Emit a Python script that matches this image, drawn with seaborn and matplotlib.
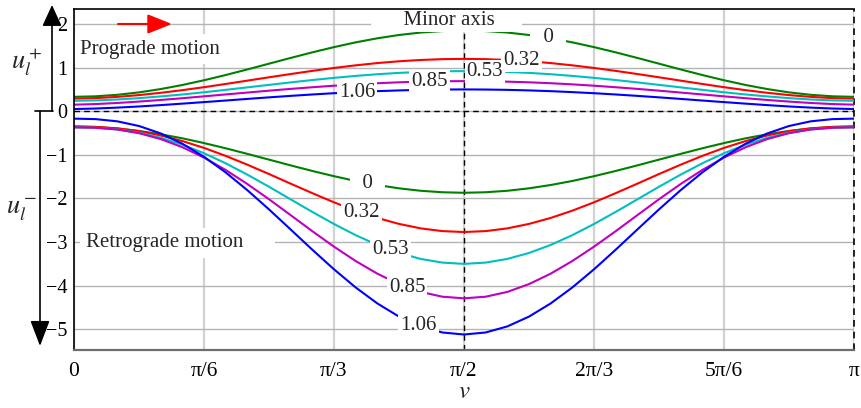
import numpy as np
import pandas as pd
import matplotlib
matplotlib.use("Agg")
import matplotlib.pyplot as plt
from matplotlib.patches import ArrowStyle
from matplotlib.lines import Line2D
import seaborn as sns

# True anomaly samples (degrees) over half an orbit
v_deg = [0, 5, 10, 15, 20, 25, 30, 35, 40, 45, 50, 55, 60, 65, 70, 75, 80, 85, 90,
         95, 100, 105, 110, 115, 120, 125, 130, 135, 140, 145, 150, 155, 160, 165, 170, 175, 180]

ecc_labels = ["0", "0.32", "0.53", "0.85", "1.06"]
line_colors = ["#008000", "#ff0000", "#00bfbf", "#bf00bf", "#0000ff"]

# Prograde branch u_l^+
u_plus_0 = [0.330, 0.342, 0.376, 0.432, 0.508, 0.601, 0.710, 0.830, 0.958, 1.090, 1.222, 1.350, 1.470,
            1.579, 1.672, 1.748, 1.804, 1.838, 1.850, 1.838, 1.804, 1.748, 1.672, 1.579, 1.470, 1.350,
            1.222, 1.090, 0.958, 0.830, 0.710, 0.601, 0.508, 0.432, 0.376, 0.342, 0.330]
u_plus_032 = [0.290, 0.301, 0.329, 0.370, 0.422, 0.483, 0.551, 0.625, 0.701, 0.778, 0.853, 0.925, 0.992,
              1.052, 1.104, 1.145, 1.175, 1.194, 1.200, 1.194, 1.175, 1.145, 1.104, 1.052, 0.992, 0.925,
              0.853, 0.778, 0.701, 0.625, 0.551, 0.483, 0.422, 0.370, 0.329, 0.301, 0.290]
u_plus_053 = [0.240, 0.248, 0.269, 0.300, 0.339, 0.384, 0.435, 0.490, 0.547, 0.604, 0.661, 0.715, 0.765,
              0.810, 0.848, 0.879, 0.902, 0.915, 0.920, 0.915, 0.902, 0.879, 0.848, 0.810, 0.765, 0.715,
              0.661, 0.604, 0.547, 0.490, 0.435, 0.384, 0.339, 0.300, 0.269, 0.248, 0.240]
u_plus_085 = [0.150, 0.164, 0.189, 0.221, 0.258, 0.298, 0.341, 0.385, 0.428, 0.471, 0.512, 0.550, 0.585,
              0.616, 0.642, 0.663, 0.678, 0.687, 0.690, 0.687, 0.678, 0.663, 0.642, 0.616, 0.585, 0.550,
              0.512, 0.471, 0.428, 0.385, 0.341, 0.298, 0.258, 0.221, 0.189, 0.164, 0.150]
u_plus_106 = [0.050, 0.062, 0.083, 0.109, 0.140, 0.174, 0.209, 0.245, 0.282, 0.318, 0.352, 0.384, 0.413,
              0.438, 0.460, 0.477, 0.490, 0.497, 0.500, 0.497, 0.490, 0.477, 0.460, 0.438, 0.413, 0.384,
              0.352, 0.318, 0.282, 0.245, 0.209, 0.174, 0.140, 0.109, 0.083, 0.062, 0.050]

# Retrograde branch u_l^-
u_minus_0 = [-0.350, -0.362, -0.396, -0.452, -0.528, -0.621, -0.730, -0.850, -0.978, -1.110, -1.242, -1.370,
             -1.490, -1.599, -1.692, -1.768, -1.824, -1.858, -1.870, -1.858, -1.824, -1.768, -1.692, -1.599,
             -1.490, -1.370, -1.242, -1.110, -0.978, -0.850, -0.730, -0.621, -0.528, -0.452, -0.396, -0.362,
             -0.350]
u_minus_032 = [-0.350, -0.359, -0.393, -0.458, -0.555, -0.684, -0.841, -1.024, -1.226, -1.440, -1.661, -1.879,
               -2.089, -2.280, -2.447, -2.584, -2.686, -2.749, -2.770, -2.749, -2.686, -2.584, -2.447, -2.280,
               -2.089, -1.879, -1.661, -1.440, -1.226, -1.024, -0.841, -0.684, -0.555, -0.458, -0.393, -0.359,
               -0.350]
u_minus_053 = [-0.370, -0.379, -0.417, -0.492, -0.608, -0.766, -0.963, -1.194, -1.454, -1.732, -2.021, -2.309,
               -2.586, -2.842, -3.066, -3.250, -3.387, -3.471, -3.500, -3.471, -3.387, -3.250, -3.066, -2.842,
               -2.586, -2.309, -2.021, -1.732, -1.454, -1.194, -0.963, -0.766, -0.608, -0.492, -0.417, -0.379,
               -0.370]
u_minus_085 = [-0.370, -0.379, -0.419, -0.504, -0.638, -0.825, -1.063, -1.347, -1.669, -2.018, -2.383, -2.751,
               -3.106, -3.435, -3.725, -3.964, -4.143, -4.253, -4.290, -4.253, -4.143, -3.964, -3.725, -3.435,
               -3.106, -2.751, -2.383, -2.018, -1.669, -1.347, -1.063, -0.825, -0.638, -0.504, -0.419, -0.379,
               -0.370]
u_minus_106 = [-0.170, -0.181, -0.232, -0.339, -0.509, -0.745, -1.045, -1.403, -1.810, -2.251, -2.712, -3.176,
               -3.625, -4.041, -4.407, -4.709, -4.934, -5.073, -5.120, -5.073, -4.934, -4.709, -4.407, -4.041,
               -3.625, -3.176, -2.712, -2.251, -1.810, -1.403, -1.045, -0.745, -0.509, -0.339, -0.232, -0.181,
               -0.170]

xtick_labels = ["0", "π/6", "π/3", "π/2", "2π/3", "5π/6", "π"]
ytick_values = [-5, -4, -3, -2, -1, 0, 1, 2]

# inline label positions along v (fractions of pi)
plus_label_pos = [0.608, 0.574, 0.527, 0.456, 0.363]
minus_label_pos = [0.376, 0.369, 0.406, 0.427, 0.442]

plus_series = [u_plus_0, u_plus_032, u_plus_053, u_plus_085, u_plus_106]
minus_series = [u_minus_0, u_minus_032, u_minus_053, u_minus_085, u_minus_106]

v = np.deg2rad(v_deg)
rows = []
for branch, series in (("plus", plus_series), ("minus", minus_series)):
    for lab, vals in zip(ecc_labels, series):
        for vi, ui in zip(v, vals):
            rows.append({"branch": branch, "e": lab, "v": vi, "u": ui})
df = pd.DataFrame(rows)

sns.set_theme(style="white")
plt.rcParams["font.family"] = ["Liberation Serif", "DejaVu Serif"]
plt.rcParams["mathtext.fontset"] = "stix"
plt.rcParams["axes.unicode_minus"] = True

W, H = 861, 408
fig = plt.figure(figsize=(W / 100, H / 100), dpi=100)
ax = fig.add_axes([74 / W, 58 / H, 780 / W, 340.7 / H])

palette = dict(zip(ecc_labels, line_colors))
for branch in ("plus", "minus"):
    sns.lineplot(data=df[df["branch"] == branch], x="v", y="u", hue="e",
                 hue_order=ecc_labels, palette=palette, estimator=None,
                 sort=False, linewidth=1.5, legend=False, ax=ax, zorder=3)

ax.set_xlim(0, np.pi)
ax.set_ylim(-5.475, 2.337)
ax.set_xlabel("")
ax.set_ylabel("")

ax.set_xticks(np.arange(7) * np.pi / 6)
ax.set_xticklabels(xtick_labels)
ax.set_yticks(ytick_values)
ax.tick_params(axis="x", length=4, width=1, color="#6e6e6e", pad=5, labelsize=15.5, labelcolor="black")
ax.tick_params(axis="y", length=0, pad=5, labelsize=14.5, labelcolor="black")

ax.xaxis.grid(True, color="#d2d2d2", linewidth=1.6, zorder=0)
ax.yaxis.grid(True, color="#b4b4b4", linewidth=1.0, zorder=0)
ax.set_axisbelow(True)

for side in ("top", "left"):
    ax.spines[side].set_color("black")
    ax.spines[side].set_linewidth(1.2)
    ax.spines[side].set_zorder(10)
ax.spines["bottom"].set_color("#6e6e6e")
ax.spines["bottom"].set_linewidth(1.6)
ax.spines["bottom"].set_zorder(10)
ax.spines["right"].set_visible(False)

dash = (0, (4, 3))
ax.axhline(0, color="black", linestyle=dash, linewidth=1.0, zorder=2)
ax.axvline(np.pi / 2, color="black", linestyle=dash, linewidth=1.0, zorder=2)
ax.axvline(np.pi, color="black", linestyle=dash, linewidth=1.2, zorder=2, clip_on=False)

label_fs = 15
box = dict(facecolor="white", edgecolor="none", pad=1.5)
for series, positions in ((plus_series, plus_label_pos), (minus_series, minus_label_pos)):
    for lab, vals, xp in zip(ecc_labels, series, positions):
        xv = xp * np.pi
        yv = np.interp(xv, v, vals)
        txt = "  0  " if lab == "0" else lab
        ax.text(xv, yv, txt, ha="center", va="center", fontsize=label_fs,
                bbox=box, zorder=6)

ax.text(0.4776 * np.pi, 2.075, "      Minor axis     ", ha="center", va="center",
        fontsize=label_fs, bbox=dict(facecolor="white", edgecolor="none", pad=1.0), zorder=6)
ax.text(0.0077 * np.pi, 1.42, "Prograde motion ", ha="left", va="center",
        fontsize=label_fs, bbox=dict(facecolor="white", edgecolor="none", pad=4), zorder=6)
ax.text(0.0154 * np.pi, -3.016, "Retrograde motion     ", ha="left", va="center",
        fontsize=label_fs, bbox=dict(facecolor="white", edgecolor="none", pad=4), zorder=6)

# direction-of-motion arrow
ax.annotate("", xy=(0.1256 * np.pi, 2.0), xytext=(0.0564 * np.pi, 2.0),
            arrowprops=dict(arrowstyle=ArrowStyle("-|>", head_length=1.0, head_width=0.4),
                            mutation_scale=15, color="red", lw=1.5, shrinkA=0, shrinkB=0),
            zorder=7)

# branch arrows beside the y axis
y0_px = H - 111.2
ax.annotate("", xy=(52, H - 5), xytext=(52, y0_px), xycoords="figure pixels",
            textcoords="figure pixels", annotation_clip=False,
            arrowprops=dict(arrowstyle=ArrowStyle("-|>", head_length=0.87, head_width=0.4),
                            mutation_scale=15, color="black", lw=1.2, shrinkA=0, shrinkB=0))
ax.annotate("", xy=(40, H - 346), xytext=(40, y0_px), xycoords="figure pixels",
            textcoords="figure pixels", annotation_clip=False,
            arrowprops=dict(arrowstyle=ArrowStyle("-|>", head_length=1.05, head_width=0.4),
                            mutation_scale=15, color="black", lw=1.2, shrinkA=0, shrinkB=0))
fig.add_artist(Line2D([35 / W, 53 / W], [y0_px / H, y0_px / H], transform=fig.transFigure,
                      color="black", lw=1.2))

fig.text(27 / W, (H - 62) / H, r"$u_l^+$", ha="center", va="center", fontsize=19)
fig.text(22 / W, (H - 210) / H, r"$u_l^-$", ha="center", va="center", fontsize=19)
fig.text(464 / W, (H - 392) / H, r"$v$", ha="center", va="center", fontsize=18)

fig.savefig("out.png", dpi=100)
